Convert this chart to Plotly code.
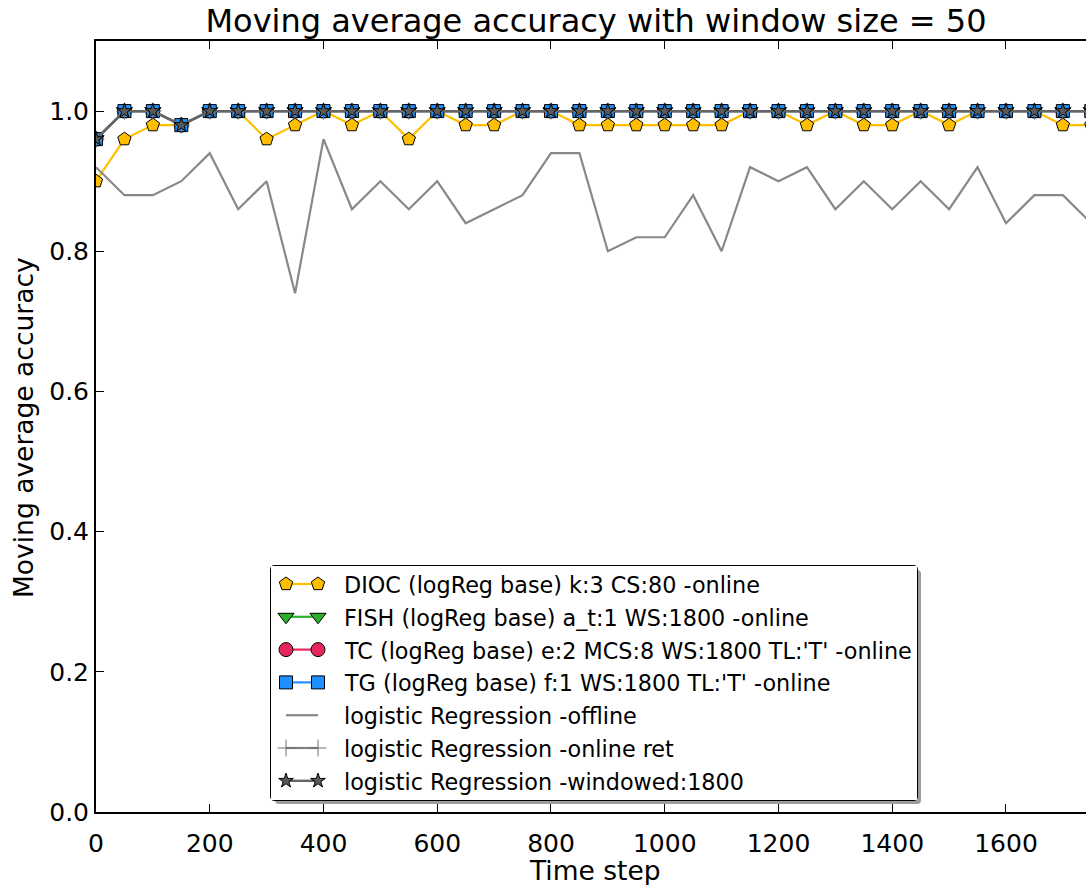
import plotly.graph_objects as go

# ---------------- data ----------------
time_steps = [0, 50, 100, 150, 200, 250, 300, 350, 400, 450, 500, 550, 600, 650, 700, 750, 800, 850,
              900, 950, 1000, 1050, 1100, 1150, 1200, 1250, 1300, 1350, 1400, 1450, 1500, 1550, 1600, 1650, 1700, 1750]

dioc_acc = [0.90, 0.96, 0.98, 0.98, 1.00, 1.00, 0.96, 0.98, 1.00, 0.98, 1.00, 0.96, 1.00, 0.98, 0.98, 1.00, 1.00, 0.98,
            0.98, 0.98, 0.98, 0.98, 0.98, 1.00, 1.00, 0.98, 1.00, 0.98, 0.98, 1.00, 0.98, 1.00, 1.00, 1.00, 0.98, 0.98]

fish_acc = [0.96, 1.00, 1.00, 0.98, 1.00, 1.00, 1.00, 1.00, 1.00, 1.00, 1.00, 1.00, 1.00, 1.00, 1.00, 1.00, 1.00, 1.00,
            1.00, 1.00, 1.00, 1.00, 1.00, 1.00, 1.00, 1.00, 1.00, 1.00, 1.00, 1.00, 1.00, 1.00, 1.00, 1.00, 1.00, 1.00]

tc_acc = [0.96, 1.00, 1.00, 0.98, 1.00, 1.00, 1.00, 1.00, 1.00, 1.00, 1.00, 1.00, 1.00, 1.00, 1.00, 1.00, 1.00, 1.00,
          1.00, 1.00, 1.00, 1.00, 1.00, 1.00, 1.00, 1.00, 1.00, 1.00, 1.00, 1.00, 1.00, 1.00, 1.00, 1.00, 1.00, 1.00]

tg_acc = [0.96, 1.00, 1.00, 0.98, 1.00, 1.00, 1.00, 1.00, 1.00, 1.00, 1.00, 1.00, 1.00, 1.00, 1.00, 1.00, 1.00, 1.00,
          1.00, 1.00, 1.00, 1.00, 1.00, 1.00, 1.00, 1.00, 1.00, 1.00, 1.00, 1.00, 1.00, 1.00, 1.00, 1.00, 1.00, 1.00]

logreg_offline_acc = [0.92, 0.88, 0.88, 0.90, 0.94, 0.86, 0.90, 0.74, 0.96, 0.86, 0.90, 0.86, 0.90, 0.84, 0.86, 0.88, 0.94, 0.94,
                      0.80, 0.82, 0.82, 0.88, 0.80, 0.92, 0.90, 0.92, 0.86, 0.90, 0.86, 0.90, 0.86, 0.92, 0.84, 0.88, 0.88, 0.84]

logreg_online_ret_acc = [0.96, 1.00, 1.00, 0.98, 1.00, 1.00, 1.00, 1.00, 1.00, 1.00, 1.00, 1.00, 1.00, 1.00, 1.00, 1.00, 1.00, 1.00,
                         1.00, 1.00, 1.00, 1.00, 1.00, 1.00, 1.00, 1.00, 1.00, 1.00, 1.00, 1.00, 1.00, 1.00, 1.00, 1.00, 1.00, 1.00]

logreg_windowed_acc = [0.96, 1.00, 1.00, 0.98, 1.00, 1.00, 1.00, 1.00, 1.00, 1.00, 1.00, 1.00, 1.00, 1.00, 1.00, 1.00, 1.00, 1.00,
                       1.00, 1.00, 1.00, 1.00, 1.00, 1.00, 1.00, 1.00, 1.00, 1.00, 1.00, 1.00, 1.00, 1.00, 1.00, 1.00, 1.00, 1.00]

series_names = [
    "DIOC (logReg base) k:3 CS:80 -online",
    "FISH (logReg base) a_t:1 WS:1800 -online",
    "TC (logReg base) e:2 MCS:8 WS:1800 TL:'T' -online",
    "TG (logReg base) f:1 WS:1800 TL:'T' -online",
    "logistic Regression -offline",
    "logistic Regression -online ret",
    "logistic Regression -windowed:1800",
]
series_values = [dioc_acc, fish_acc, tc_acc, tg_acc,
                 logreg_offline_acc, logreg_online_ret_acc, logreg_windowed_acc]

x_ticks = [0, 200, 400, 600, 800, 1000, 1200, 1400, 1600]
y_ticks = [0.0, 0.2, 0.4, 0.6, 0.8, 1.0]

# ---------------- styles ----------------
FONT = "DejaVu Sans"
styles = [
    dict(mode="lines+markers", line=dict(color="#FFBF00", width=2.2),
         marker=dict(symbol="pentagon", size=14, color="#FFBF00", line=dict(color="black", width=1))),
    dict(mode="lines+markers", line=dict(color="#2CB02C", width=2.2),
         marker=dict(symbol="triangle-down", size=14, color="#2CB02C", line=dict(color="black", width=1))),
    dict(mode="lines+markers", line=dict(color="#E8265E", width=2.2),
         marker=dict(symbol="circle", size=14, color="#E8265E", line=dict(color="black", width=1))),
    dict(mode="lines+markers", line=dict(color="#1E90FF", width=2.2),
         marker=dict(symbol="square", size=13, color="#1E90FF", line=dict(color="black", width=1))),
    dict(mode="lines", line=dict(color="#888888", width=2.2)),
    dict(mode="lines+markers", line=dict(color="#808080", width=2.2),
         marker=dict(symbol="cross-thin", size=12, color="#707070", line=dict(color="#707070", width=1))),
    dict(mode="lines+markers", line=dict(color="#666666", width=2.4),
         marker=dict(symbol="star", size=11, color="#5a5a5a", line=dict(color="black", width=1))),
]

# ---------------- geometry ----------------
FIG_W, FIG_H = 1086, 885
M_L, M_R, M_T, M_B = 96, 0, 41, 73
PLOT_W = FIG_W - M_L - M_R
PLOT_H = FIG_H - M_T - M_B
X_MAX = 1740.7
Y_MAX = 1.1


def paper_x(px):
    return (px - M_L) / PLOT_W


def paper_y(py):
    return (FIG_H - M_B - py) / PLOT_H


fig = go.Figure()

for name, vals, st in zip(series_names, series_values, styles):
    fig.add_trace(go.Scatter(x=time_steps, y=vals, name=name, showlegend=False,
                             hoverinfo="x+y+name", **st))

# ---------------- legend box (drawn on an inset axis) ----------------
LEG_L, LEG_R, LEG_T, LEG_B = 271, 917, 566, 800
LEG_W, LEG_H = LEG_R - LEG_L, LEG_B - LEG_T
row_y = [18 + 32.8 * i for i in range(len(series_names))]
sample_x = [15, 47]
text_x = 71

for name, st, ry in zip(series_names, styles, row_y):
    fig.add_trace(go.Scatter(x=sample_x, y=[ry, ry], xaxis="x3", yaxis="y3",
                             showlegend=False, hoverinfo="skip", cliponaxis=False, **st))
    fig.add_annotation(x=text_x, y=ry + 1, xref="x3", yref="y3", text=name, showarrow=False,
                       xanchor="left", yanchor="middle",
                       font=dict(family=FONT, size=22.3, color="black"))


def rounded_rect(l, t, r, b, rad):
    x0, x1 = paper_x(l), paper_x(r)
    y0, y1 = paper_y(b), paper_y(t)
    rx, ry = rad / PLOT_W, rad / PLOT_H
    return (f"M {x0 + rx},{y1} L {x1 - rx},{y1} Q {x1},{y1} {x1},{y1 - ry} "
            f"L {x1},{y0 + ry} Q {x1},{y0} {x1 - rx},{y0} "
            f"L {x0 + rx},{y0} Q {x0},{y0} {x0},{y0 + ry} "
            f"L {x0},{y1 - ry} Q {x0},{y1} {x0 + rx},{y1} Z")


SH = 4
fig.add_shape(type="path", xref="paper", yref="paper", layer="below",
              path=rounded_rect(LEG_L + SH, LEG_T + SH, LEG_R + SH, LEG_B + SH, 4),
              fillcolor="#9c9c9c", line=dict(width=0))
fig.add_shape(type="path", xref="paper", yref="paper", layer="below",
              path=rounded_rect(LEG_L, LEG_T, LEG_R, LEG_B, 4),
              fillcolor="white", line=dict(color="black", width=2))

# ---------------- titles ----------------
fig.add_annotation(text="Time step", xref="paper", yref="paper",
                   x=paper_x(595), y=paper_y(870), showarrow=False,
                   xanchor="center", yanchor="middle",
                   font=dict(family=FONT, size=26.5, color="black"))
fig.add_annotation(text="Moving average accuracy", xref="paper", yref="paper",
                   x=paper_x(23), y=paper_y(428), showarrow=False, textangle=-90,
                   xanchor="center", yanchor="middle",
                   font=dict(family=FONT, size=26.5, color="black"))

axis_common = dict(showgrid=False, zeroline=False, ticks="inside", ticklen=8, tickwidth=1,
                   tickcolor="black", showline=True, linecolor="black", linewidth=2,
                   tickfont=dict(family=FONT, size=25, color="black"))

fig.update_layout(
    width=FIG_W, height=FIG_H,
    margin=dict(l=M_L, r=M_R, t=M_T, b=M_B, pad=0),
    paper_bgcolor="white", plot_bgcolor="white",
    showlegend=False,
    font=dict(family=FONT, color="black"),
    title=dict(text="Moving average accuracy with window size = 50",
               x=paper_x(596), xref="paper", xanchor="center",
               y=1 - 21 / FIG_H, yref="container", yanchor="middle",
               font=dict(family=FONT, size=32, color="black")),
    xaxis=dict(range=[0, X_MAX], tickvals=x_ticks, ticktext=[str(v) for v in x_ticks],
               mirror="ticks", ticklabelstandoff=8, **axis_common),
    yaxis=dict(range=[0, Y_MAX], tickvals=y_ticks, ticktext=[f"{v:.1f}" for v in y_ticks],
               mirror=False, ticklabelstandoff=0, **axis_common),
    yaxis2=dict(overlaying="y", side="right", anchor="x", range=[0, Y_MAX], tickvals=y_ticks,
                ticks="inside", ticklen=3, tickwidth=1, tickcolor="black",
                showticklabels=False, showline=False, showgrid=False, zeroline=False),
    xaxis3=dict(domain=[paper_x(LEG_L), paper_x(LEG_R)], anchor="y3", range=[0, LEG_W],
                visible=False, fixedrange=True),
    yaxis3=dict(domain=[paper_y(LEG_B), paper_y(LEG_T)], anchor="x3", range=[LEG_H, 0],
                visible=False, fixedrange=True),
)

fig.write_html("out.html")
